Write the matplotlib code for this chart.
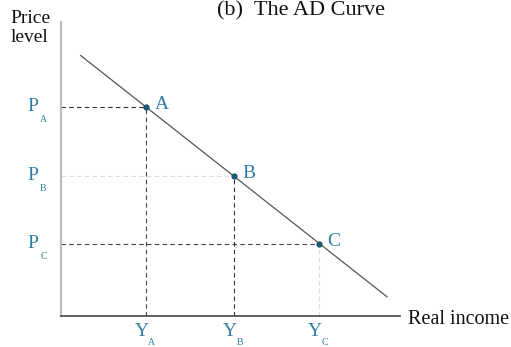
import matplotlib
matplotlib.use("Agg")
import matplotlib.pyplot as plt

# AD curve end points and the three marked points (axis units 0..10)
curve_x = [0.58, 9.62]
curve_y = [8.86, 0.65]
point_names = ["A", "B", "C"]
point_x = [2.51, 5.10, 7.61]
point_y = [7.11, 4.76, 2.45]
p_labels = ["P", "P", "P"]
y_labels = ["Y", "Y", "Y"]

plt.rcParams["font.family"] = ["Liberation Serif", "DejaVu Serif"]

blue = "#2f7fa3"
dot = "#1d5670"

fig = plt.figure(figsize=(5.11, 3.47), dpi=100)
ax = fig.add_axes([61 / 511, 31 / 347, 339 / 511, 294 / 347])
ax.set_xlim(0, 10)
ax.set_ylim(0, 10)
ax.set_xticks([])
ax.set_yticks([])
ax.spines["top"].set_visible(False)
ax.spines["right"].set_visible(False)
ax.spines["left"].set_color("#bbbbbb")
ax.spines["left"].set_linewidth(1.6)
ax.spines["bottom"].set_color("#444444")
ax.spines["bottom"].set_linewidth(1.2)

ax.plot(curve_x, curve_y, color="#555555", lw=0.9, zorder=3)

h_colors = ["#333333", "#dddddd", "#444444"]
v_colors = ["#444444", "#333333", "#dddddd"]
for i, name in enumerate(point_names):
    # horizontal guide to the price axis (C's extends to C itself)
    ax.plot([0, point_x[i]], [point_y[i], point_y[i]], ls=(0, (4, 3)),
            color=h_colors[i], lw=0.8, zorder=2)
    ax.plot([point_x[i], point_x[i]], [0, point_y[i]], ls=(0, (4, 3)),
            color=v_colors[i], lw=0.8, zorder=2)
    ax.plot(point_x[i], point_y[i], "o", color=dot, ms=3.5, zorder=4)
    ax.annotate(name, (point_x[i], point_y[i]), xytext=(6, 2),
                textcoords="offset points", color=blue, fontsize=14,
                va="center", ha="left")
    # price labels on the left
    ax.annotate(p_labels[i], (0, point_y[i]), xytext=(-24, -6),
                textcoords="offset points", color=blue, fontsize=14,
                ha="left", va="bottom", annotation_clip=False)
    ax.annotate(name, (0, point_y[i]), xytext=(-15, -12),
                textcoords="offset points", color=blue, fontsize=7,
                ha="left", va="bottom", annotation_clip=False)
    # income labels below the axis
    ax.annotate(y_labels[i], (point_x[i], 0), xytext=(-3, -5),
                textcoords="offset points", color=blue, fontsize=14,
                ha="center", va="top", annotation_clip=False)
    ax.annotate(name, (point_x[i], 0), xytext=(4, -15.5),
                textcoords="offset points", color=blue, fontsize=7,
                ha="center", va="top", annotation_clip=False)

fig.text(30 / 511, 1 - 28 / 347, "Price\nlevel", ha="center", va="center",
         fontsize=14, linespacing=1.2, color="#111111")
fig.text(408 / 511, 27 / 347, "Real income", ha="left", va="center",
         fontsize=14.5, color="#111111")
fig.text(301 / 511, 1 - 1 / 347, "(b)  The AD Curve", ha="center",
         va="top", fontsize=16, color="#111111")

fig.savefig("out.png", dpi=100)
